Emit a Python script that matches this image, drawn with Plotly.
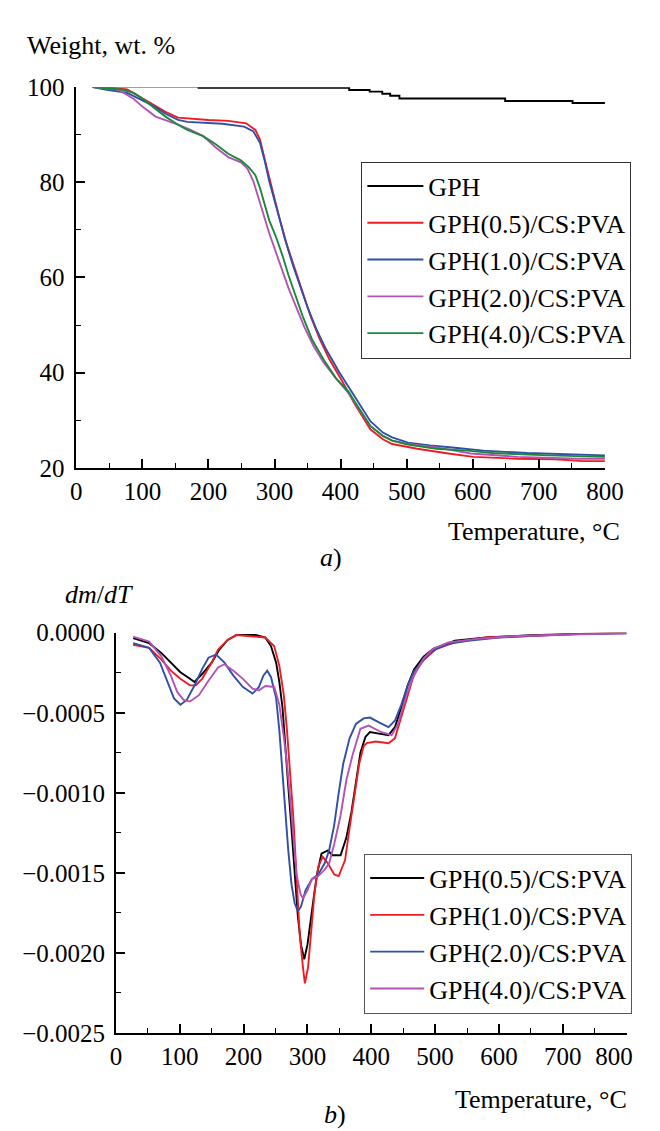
import plotly.graph_objects as go

# ---- a) TGA, weight % vs temperature ----
t_gph = [24, 185, 413, 444, 463, 475, 489, 649, 751, 801]
w_gph = [100.1, 99.87, 99.4, 99.05, 98.6, 98.2, 97.6, 97.1, 96.65, 96.65]

t_05 = [25, 50, 77, 101, 120, 135, 154, 168, 200, 230, 257, 271, 278, 285, 292, 300, 307, 316, 326, 335,
        345, 355, 369, 383, 402, 421, 445, 464, 478, 502, 516, 563, 601, 668, 725, 767, 800]
w_05 = [100, 99.9, 99.5, 97.5, 96.1, 94.8, 93.6, 93.4, 93.1, 92.9, 92.4, 91.0, 89.0, 84.9, 80.9, 76.8, 72.7,
        68.0, 63.9, 59.8, 55.7, 51.7, 46.9, 42.8, 38.3, 33.5, 28.1, 26.0, 25.0, 24.3, 24.0, 23.0, 22.3, 21.9,
        21.8, 21.4, 21.4]

t_10 = [25, 44, 77, 97, 116, 135, 154, 168, 221, 254, 268, 278, 285, 292, 300, 309, 319, 328, 338, 350,
        364, 378, 398, 421, 445, 464, 478, 502, 535, 573, 616, 682, 781, 800]
w_10 = [100, 99.5, 98.8, 97.5, 96.1, 94.4, 93.1, 92.7, 92.3, 91.7, 90.7, 88.3, 84.6, 80.2, 76.1, 71.4, 66.6,
        62.5, 58.5, 53.7, 48.9, 44.9, 40.1, 35.0, 29.8, 27.4, 26.4, 25.3, 24.7, 24.2, 23.6, 23.1, 22.6, 22.6]

t_20 = [25, 63, 87, 101, 120, 135, 154, 173, 192, 211, 230, 249, 259, 268, 276, 283, 292, 302, 312, 321,
        331, 345, 359, 374, 393, 412, 421, 445, 464, 478, 502, 545, 597, 668, 760, 800]
w_20 = [100, 99.5, 97.5, 95.8, 93.8, 93.1, 92.1, 91.0, 89.7, 87.3, 85.3, 84.2, 82.9, 80.2, 76.8, 73.4, 69.3,
        65.2, 61.2, 57.8, 54.4, 49.6, 45.6, 42.2, 38.8, 35.7, 33.8, 28.8, 26.7, 25.7, 25.0, 24.3, 23.0, 22.3,
        21.9, 21.9]

t_40 = [25, 68, 87, 101, 116, 135, 154, 168, 192, 211, 230, 249, 261, 271, 278, 285, 292, 302, 312, 321,
        331, 343, 357, 374, 393, 412, 421, 445, 464, 478, 502, 545, 592, 630, 715, 800]
w_40 = [100, 99.5, 98.8, 97.5, 95.8, 93.8, 92.1, 91.0, 89.7, 88.0, 86.0, 84.6, 83.2, 81.5, 78.8, 75.4, 72.0,
        68.6, 64.6, 60.5, 56.4, 51.7, 46.9, 42.8, 38.8, 36.0, 34.0, 28.8, 26.7, 25.7, 24.9, 24.0, 23.6, 23.1,
        22.6, 22.3]

# ---- b) DTG, dm/dT vs temperature ----
d_t05 = [27, 52, 71, 86, 101, 116, 123, 135, 150, 162, 175, 189, 219, 234, 243, 251, 256, 261, 265, 270,
         275, 280, 285, 290, 295, 300, 305, 310, 315, 322, 332, 339, 352, 361, 369, 376, 383, 391, 398, 412,
         427, 437, 447, 457, 467, 482, 497, 531, 580, 650, 720, 800]
d_v05 = [-0.000034, -0.000065, -0.000126, -0.000187, -0.000247, -0.000288, -0.000308, -0.000258, -0.000187,
         -0.000105, -0.000045, -0.000014, -0.000014, -0.000030, -0.000085, -0.000187, -0.000308, -0.000470,
         -0.000710, -0.000960, -0.001220, -0.001530, -0.001770, -0.001950, -0.002040, -0.001950, -0.001790,
         -0.001650, -0.001510, -0.001380, -0.001360, -0.001390, -0.001390, -0.001280, -0.001120, -0.000920,
         -0.000750, -0.000650, -0.000620, -0.000630, -0.000640, -0.000590, -0.000470, -0.000330, -0.000230,
         -0.000150, -0.000100, -0.000050, -0.000030, -0.000015, -0.000008, 0.0]

d_t10 = [27, 52, 71, 86, 101, 116, 125, 135, 150, 160, 175, 189, 234, 248, 256, 263, 268, 273, 278, 283,
         288, 293, 296, 301, 306, 311, 317, 324, 332, 342, 349, 359, 366, 374, 381, 388, 393, 407, 427, 437,
         447, 457, 467, 482, 502, 531, 580, 679, 800]
d_v10 = [-0.000075, -0.000095, -0.000166, -0.000237, -0.000288, -0.000329, -0.000329, -0.000288, -0.000187,
         -0.000105, -0.000045, -0.000014, -0.000030, -0.000085, -0.000207, -0.000390, -0.000610, -0.000880,
         -0.001160, -0.001530, -0.001890, -0.002090, -0.002190, -0.002090, -0.001830, -0.001630, -0.001460,
         -0.001400, -0.001440, -0.001510, -0.001520, -0.001420, -0.001220, -0.001020, -0.000820, -0.000710,
         -0.000690, -0.000680, -0.000690, -0.000660, -0.000530, -0.000390, -0.000260, -0.000170, -0.000100,
         -0.000060, -0.000030, -0.000016, 0.000004]

d_t20 = [27, 52, 69, 81, 91, 101, 111, 123, 135, 145, 157, 170, 184, 199, 214, 224, 231, 237, 243, 251,
         256, 261, 265, 270, 275, 280, 285, 290, 297, 307, 317, 327, 334, 342, 349, 356, 366, 376, 388, 398,
         412, 427, 437, 447, 457, 467, 482, 497, 521, 551, 600, 659, 704, 800]
d_v20 = [-0.000065, -0.000095, -0.000187, -0.000308, -0.000410, -0.000450, -0.000420, -0.000330, -0.000227,
         -0.000156, -0.000136, -0.000187, -0.000268, -0.000339, -0.000380, -0.000339, -0.000268, -0.000237,
         -0.000278, -0.000410, -0.000610, -0.000880, -0.001120, -0.001360, -0.001570, -0.001690, -0.001740,
         -0.001710, -0.001610, -0.001540, -0.001510, -0.001440, -0.001360, -0.001200, -0.001000, -0.000820,
         -0.000660, -0.000570, -0.000535, -0.000530, -0.000560, -0.000590, -0.000550, -0.000450, -0.000330,
         -0.000240, -0.000170, -0.000110, -0.000070, -0.000050, -0.000030, -0.000020, -0.000010, -0.000004]

d_t40 = [27, 52, 71, 86, 96, 106, 116, 130, 145, 160, 170, 184, 199, 214, 224, 234, 248, 256, 263, 268,
         273, 278, 283, 289, 293, 300, 307, 317, 327, 334, 342, 352, 361, 371, 383, 396, 415, 432, 442, 452,
         462, 472, 482, 497, 521, 561, 630, 720, 800]
d_v40 = [-0.000024, -0.000055, -0.000146, -0.000268, -0.000370, -0.000420, -0.000430, -0.000390, -0.000300,
         -0.000217, -0.000197, -0.000237, -0.000288, -0.000349, -0.000360, -0.000333, -0.000339, -0.000450,
         -0.000650, -0.000820, -0.001040, -0.001280, -0.001510, -0.001630, -0.001660, -0.001610, -0.001540,
         -0.001520, -0.001480, -0.001440, -0.001320, -0.001140, -0.000920, -0.000760, -0.000600, -0.000580,
         -0.000620, -0.000640, -0.000570, -0.000430, -0.000310, -0.000230, -0.000160, -0.000100, -0.000060,
         -0.000040, -0.000020, -0.000010, -0.000003]

t_ticks = [0, 100, 200, 300, 400, 500, 600, 700, 800]
# last label nudged left so it stays inside the page, as in the original
t_ticks_b = ["0", "100", "200", "300", "400", "500", "600", "700", "800\u00a0\u00a0\u00a0\u00a0"]

serif = "Liberation Serif"
blk, red, blu, pur, grn = "#000000", "#ee1c25", "#2f4fa8", "#b553b5", "#1a8a3a"

fig = go.Figure()

top = [("GPH", t_gph, w_gph, blk, "hv"),
       ("GPH(0.5)/CS:PVA", t_05, w_05, red, "linear"),
       ("GPH(1.0)/CS:PVA", t_10, w_10, blu, "linear"),
       ("GPH(2.0)/CS:PVA", t_20, w_20, pur, "linear"),
       ("GPH(4.0)/CS:PVA", t_40, w_40, grn, "linear")]
for name, x, y, c, shp in top:
    fig.add_trace(go.Scatter(x=x, y=y, name=name, mode="lines", xaxis="x", yaxis="y", legend="legend",
                             line=dict(color=c, width=1.9, shape=shp)))

bottom = [("GPH(0.5)/CS:PVA", d_t05, d_v05, blk),
          ("GPH(1.0)/CS:PVA", d_t10, d_v10, red),
          ("GPH(2.0)/CS:PVA", d_t20, d_v20, blu),
          ("GPH(4.0)/CS:PVA", d_t40, d_v40, pur)]
for name, x, y, c in bottom:
    fig.add_trace(go.Scatter(x=x, y=y, name=name, mode="lines", xaxis="x2", yaxis="y2", legend="legend2",
                             line=dict(color=c, width=1.9)))

ax = dict(showline=True, linecolor="black", linewidth=1.6, ticks="inside", ticklen=9, tickwidth=1.6,
          tickcolor="black", showgrid=False, zeroline=False, tickfont=dict(family=serif, size=25, color="black"))
mn = dict(ticks="inside", ticklen=5, tickwidth=1.4, tickcolor="black")

fig.update_layout(
    width=660, height=1131,
    margin=dict(l=0, r=0, t=0, b=0),
    paper_bgcolor="white", plot_bgcolor="white",
    font=dict(family=serif, size=25, color="black"),
    xaxis=dict(ax, domain=[0.1, 0.9485], range=[0, 800], tickvals=t_ticks, anchor="y",
               minor=dict(mn, dtick=50)),
    yaxis=dict(ax, domain=[0.5953, 0.9401], range=[20, 100], dtick=20, anchor="x", ticklabelstandoff=5,
               minor=dict(mn, dtick=10)),
    xaxis2=dict(ax, domain=[0.1636, 0.9833], range=[0, 800], tickvals=t_ticks, ticktext=t_ticks_b,
                ticklabeloverflow="allow", anchor="y2", minor=dict(mn, dtick=50)),
    yaxis2=dict(ax, domain=[0.0834, 0.4459], range=[-0.0025, 0], dtick=0.0005, tickformat=".4f",
                anchor="x2", ticklabelstandoff=4, minor=dict(mn, dtick=0.00025)),
    legend=dict(x=368 / 660, y=1 - 144 / 1131, xanchor="left", yanchor="top", bgcolor="white",
                bordercolor="#333333", borderwidth=1, font=dict(family=serif, size=26), itemwidth=56),
    legend2=dict(x=371 / 660, y=1 - 853 / 1131, xanchor="left", yanchor="top", bgcolor="white",
                 bordercolor="#555555", borderwidth=1, font=dict(family=serif, size=26), itemwidth=54),
    showlegend=True,
)

ann = dict(xref="paper", yref="paper", showarrow=False, font=dict(family=serif, size=26, color="black"))
fig.add_annotation(ann, text="Weight, wt. %", x=12 / 660, y=1 - 25 / 1131, xanchor="left", yanchor="middle")
fig.add_annotation(ann, text="Temperature, °C", x=644 / 660, y=1 - 523 / 1131, xanchor="right", yanchor="middle")
fig.add_annotation(ann, text="<i>a</i>)", x=336 / 660, y=1 - 550 / 1131, xanchor="center", yanchor="middle")
fig.add_annotation(ann, text="<i>dm</i>/<i>dT</i>", x=90 / 660, y=1 - 588 / 1131, xanchor="center", yanchor="middle")
fig.add_annotation(ann, text="Temperature, °C", x=652 / 660, y=1 - 1105 / 1131, xanchor="right", yanchor="middle")
fig.add_annotation(ann, text="<i>b</i>)", x=340 / 660, y=1 - 1120 / 1131, xanchor="center", yanchor="middle")

fig.write_html("out.html")
